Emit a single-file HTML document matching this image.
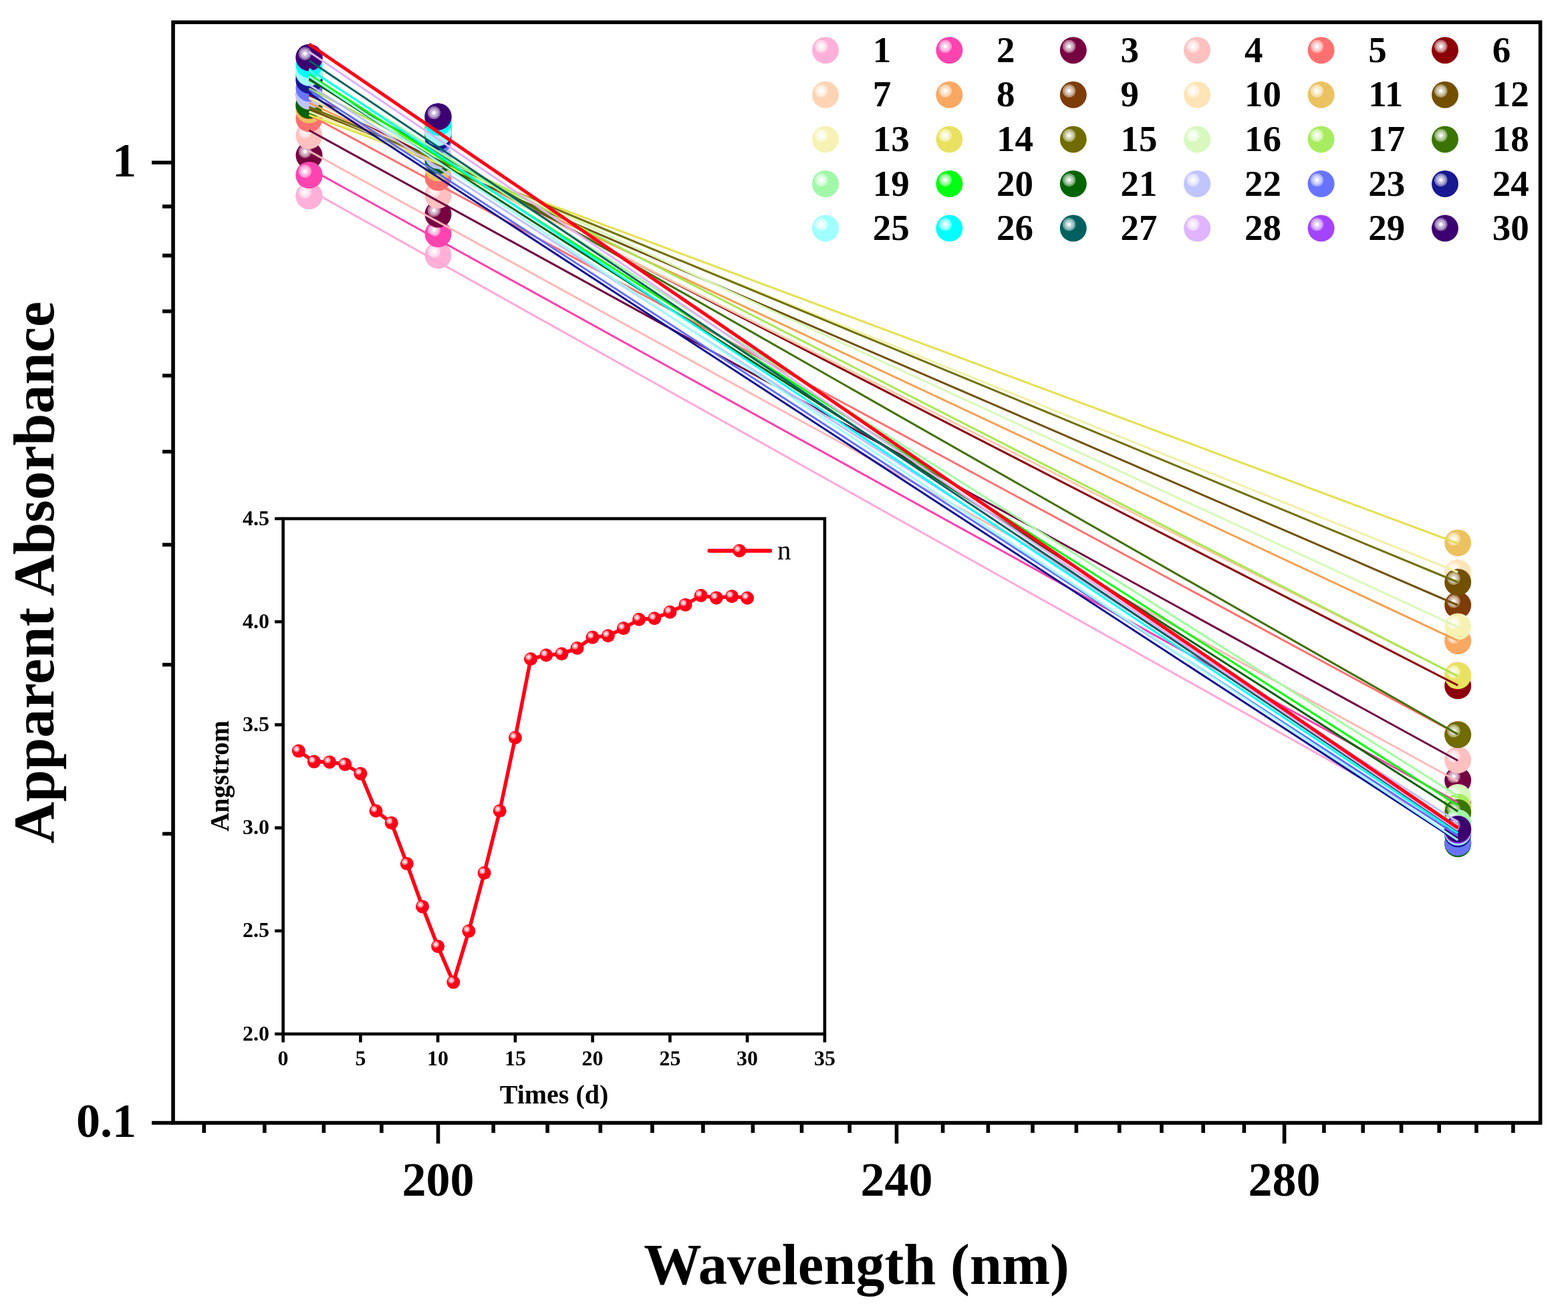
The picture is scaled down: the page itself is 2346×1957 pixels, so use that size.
<!DOCTYPE html><html><head><meta charset="utf-8"><title>Apparent Absorbance</title><style>html,body{margin:0;padding:0;background:#fff;}svg{display:block;}</style></head><body><svg width="2346" height="1957" viewBox="0 0 2346 1957">
<defs><radialGradient id="g1" cx="0.345" cy="0.355" r="0.25" fx="0.345" fy="0.355"><stop offset="0" stop-color="#ffffff"/><stop offset="0.17" stop-color="#ffffff"/><stop offset="0.38" stop-color="#ffe9f4"/><stop offset="0.66" stop-color="#ffe4f2"/><stop offset="0.72" stop-color="#ffd4ea"/><stop offset="0.94" stop-color="#ffd1e8"/><stop offset="1" stop-color="#ffb0d8"/></radialGradient><radialGradient id="g2" cx="0.345" cy="0.355" r="0.25" fx="0.345" fy="0.355"><stop offset="0" stop-color="#ffffff"/><stop offset="0.17" stop-color="#ffffff"/><stop offset="0.38" stop-color="#ffcbe9"/><stop offset="0.66" stop-color="#ffbfe4"/><stop offset="0.72" stop-color="#ff98d4"/><stop offset="0.94" stop-color="#ff93d1"/><stop offset="1" stop-color="#ff44b0"/></radialGradient><radialGradient id="g3" cx="0.345" cy="0.355" r="0.25" fx="0.345" fy="0.355"><stop offset="0" stop-color="#ffffff"/><stop offset="0.17" stop-color="#ffffff"/><stop offset="0.38" stop-color="#d9b8ca"/><stop offset="0.66" stop-color="#d0a8be"/><stop offset="0.72" stop-color="#b47396"/><stop offset="0.94" stop-color="#b06b90"/><stop offset="1" stop-color="#760040"/></radialGradient><radialGradient id="g4" cx="0.345" cy="0.355" r="0.25" fx="0.345" fy="0.355"><stop offset="0" stop-color="#ffffff"/><stop offset="0.17" stop-color="#ffffff"/><stop offset="0.38" stop-color="#ffeded"/><stop offset="0.66" stop-color="#ffeaea"/><stop offset="0.72" stop-color="#ffdcdc"/><stop offset="0.94" stop-color="#ffdada"/><stop offset="1" stop-color="#ffc0c0"/></radialGradient><radialGradient id="g5" cx="0.345" cy="0.355" r="0.25" fx="0.345" fy="0.355"><stop offset="0" stop-color="#ffffff"/><stop offset="0.17" stop-color="#ffffff"/><stop offset="0.38" stop-color="#ffd7d7"/><stop offset="0.66" stop-color="#ffcece"/><stop offset="0.72" stop-color="#ffb0b0"/><stop offset="0.94" stop-color="#ffacac"/><stop offset="1" stop-color="#ff7070"/></radialGradient><radialGradient id="g6" cx="0.345" cy="0.355" r="0.25" fx="0.345" fy="0.355"><stop offset="0" stop-color="#ffffff"/><stop offset="0.17" stop-color="#ffffff"/><stop offset="0.38" stop-color="#dfb8ba"/><stop offset="0.66" stop-color="#d8a8ab"/><stop offset="0.72" stop-color="#c07377"/><stop offset="0.94" stop-color="#bc6b70"/><stop offset="1" stop-color="#8c0008"/></radialGradient><radialGradient id="g7" cx="0.345" cy="0.355" r="0.25" fx="0.345" fy="0.355"><stop offset="0" stop-color="#ffffff"/><stop offset="0.17" stop-color="#ffffff"/><stop offset="0.38" stop-color="#fff3ea"/><stop offset="0.66" stop-color="#fff0e6"/><stop offset="0.72" stop-color="#ffe7d6"/><stop offset="0.94" stop-color="#ffe6d4"/><stop offset="1" stop-color="#ffd4b4"/></radialGradient><radialGradient id="g8" cx="0.345" cy="0.355" r="0.25" fx="0.345" fy="0.355"><stop offset="0" stop-color="#ffffff"/><stop offset="0.17" stop-color="#ffffff"/><stop offset="0.38" stop-color="#fde7d2"/><stop offset="0.66" stop-color="#fde1c9"/><stop offset="0.72" stop-color="#fbcfa8"/><stop offset="0.94" stop-color="#fbcda3"/><stop offset="1" stop-color="#f8a860"/></radialGradient><radialGradient id="g9" cx="0.345" cy="0.355" r="0.25" fx="0.345" fy="0.355"><stop offset="0" stop-color="#ffffff"/><stop offset="0.17" stop-color="#ffffff"/><stop offset="0.38" stop-color="#dbc8ba"/><stop offset="0.66" stop-color="#d3bdab"/><stop offset="0.72" stop-color="#b89477"/><stop offset="0.94" stop-color="#b48e70"/><stop offset="1" stop-color="#7e3c08"/></radialGradient><radialGradient id="g10" cx="0.345" cy="0.355" r="0.25" fx="0.345" fy="0.355"><stop offset="0" stop-color="#ffffff"/><stop offset="0.17" stop-color="#ffffff"/><stop offset="0.38" stop-color="#fff7eb"/><stop offset="0.66" stop-color="#fff6e7"/><stop offset="0.72" stop-color="#fff0d8"/><stop offset="0.94" stop-color="#ffefd6"/><stop offset="1" stop-color="#ffe4b8"/></radialGradient><radialGradient id="g11" cx="0.345" cy="0.355" r="0.25" fx="0.345" fy="0.355"><stop offset="0" stop-color="#ffffff"/><stop offset="0.17" stop-color="#ffffff"/><stop offset="0.38" stop-color="#faeed2"/><stop offset="0.66" stop-color="#f9eac9"/><stop offset="0.72" stop-color="#f5dda8"/><stop offset="0.94" stop-color="#f4dca3"/><stop offset="1" stop-color="#ecc260"/></radialGradient><radialGradient id="g12" cx="0.345" cy="0.355" r="0.25" fx="0.345" fy="0.355"><stop offset="0" stop-color="#ffffff"/><stop offset="0.17" stop-color="#ffffff"/><stop offset="0.38" stop-color="#d8ceb8"/><stop offset="0.66" stop-color="#cfc4a8"/><stop offset="0.72" stop-color="#b19f73"/><stop offset="0.94" stop-color="#ad9a6b"/><stop offset="1" stop-color="#725000"/></radialGradient><radialGradient id="g13" cx="0.345" cy="0.355" r="0.25" fx="0.345" fy="0.355"><stop offset="0" stop-color="#ffffff"/><stop offset="0.17" stop-color="#ffffff"/><stop offset="0.38" stop-color="#fcfbea"/><stop offset="0.66" stop-color="#fcfbe6"/><stop offset="0.72" stop-color="#faf8d6"/><stop offset="0.94" stop-color="#faf7d4"/><stop offset="1" stop-color="#f6f2b4"/></radialGradient><radialGradient id="g14" cx="0.345" cy="0.355" r="0.25" fx="0.345" fy="0.355"><stop offset="0" stop-color="#ffffff"/><stop offset="0.17" stop-color="#ffffff"/><stop offset="0.38" stop-color="#f9f7d2"/><stop offset="0.66" stop-color="#f7f5c9"/><stop offset="0.72" stop-color="#f2efa8"/><stop offset="0.94" stop-color="#f2eea3"/><stop offset="1" stop-color="#e8e260"/></radialGradient><radialGradient id="g15" cx="0.345" cy="0.355" r="0.25" fx="0.345" fy="0.355"><stop offset="0" stop-color="#ffffff"/><stop offset="0.17" stop-color="#ffffff"/><stop offset="0.38" stop-color="#d7d6b8"/><stop offset="0.66" stop-color="#cecda8"/><stop offset="0.72" stop-color="#b0ae73"/><stop offset="0.94" stop-color="#acaa6b"/><stop offset="1" stop-color="#706c00"/></radialGradient><radialGradient id="g16" cx="0.345" cy="0.355" r="0.25" fx="0.345" fy="0.355"><stop offset="0" stop-color="#ffffff"/><stop offset="0.17" stop-color="#ffffff"/><stop offset="0.38" stop-color="#f4fded"/><stop offset="0.66" stop-color="#f2fdea"/><stop offset="0.72" stop-color="#eafbdc"/><stop offset="0.94" stop-color="#e8fbda"/><stop offset="1" stop-color="#d8f8c0"/></radialGradient><radialGradient id="g17" cx="0.345" cy="0.355" r="0.25" fx="0.345" fy="0.355"><stop offset="0" stop-color="#ffffff"/><stop offset="0.17" stop-color="#ffffff"/><stop offset="0.38" stop-color="#e7fad2"/><stop offset="0.66" stop-color="#e1f9c9"/><stop offset="0.72" stop-color="#cff5a8"/><stop offset="0.94" stop-color="#cdf4a3"/><stop offset="1" stop-color="#a8ec60"/></radialGradient><radialGradient id="g18" cx="0.345" cy="0.355" r="0.25" fx="0.345" fy="0.355"><stop offset="0" stop-color="#ffffff"/><stop offset="0.17" stop-color="#ffffff"/><stop offset="0.38" stop-color="#c8d8b8"/><stop offset="0.66" stop-color="#bdd0a8"/><stop offset="0.72" stop-color="#94b373"/><stop offset="0.94" stop-color="#8eae6b"/><stop offset="1" stop-color="#3c7400"/></radialGradient><radialGradient id="g19" cx="0.345" cy="0.355" r="0.25" fx="0.345" fy="0.355"><stop offset="0" stop-color="#ffffff"/><stop offset="0.17" stop-color="#ffffff"/><stop offset="0.38" stop-color="#e4fde7"/><stop offset="0.66" stop-color="#dffde1"/><stop offset="0.72" stop-color="#cbfbcf"/><stop offset="0.94" stop-color="#c8fbcd"/><stop offset="1" stop-color="#a0f8a8"/></radialGradient><radialGradient id="g20" cx="0.345" cy="0.355" r="0.25" fx="0.345" fy="0.355"><stop offset="0" stop-color="#ffffff"/><stop offset="0.17" stop-color="#ffffff"/><stop offset="0.38" stop-color="#b8ffbc"/><stop offset="0.66" stop-color="#a8ffae"/><stop offset="0.72" stop-color="#73ff7c"/><stop offset="0.94" stop-color="#6bff74"/><stop offset="1" stop-color="#00ff10"/></radialGradient><radialGradient id="g21" cx="0.345" cy="0.355" r="0.25" fx="0.345" fy="0.355"><stop offset="0" stop-color="#ffffff"/><stop offset="0.17" stop-color="#ffffff"/><stop offset="0.38" stop-color="#b8d4b8"/><stop offset="0.66" stop-color="#a8caa8"/><stop offset="0.72" stop-color="#73aa73"/><stop offset="0.94" stop-color="#6ba56b"/><stop offset="1" stop-color="#006400"/></radialGradient><radialGradient id="g22" cx="0.345" cy="0.355" r="0.25" fx="0.345" fy="0.355"><stop offset="0" stop-color="#ffffff"/><stop offset="0.17" stop-color="#ffffff"/><stop offset="0.38" stop-color="#edeeff"/><stop offset="0.66" stop-color="#eaebff"/><stop offset="0.72" stop-color="#dcdfff"/><stop offset="0.94" stop-color="#daddff"/><stop offset="1" stop-color="#c0c4ff"/></radialGradient><radialGradient id="g23" cx="0.345" cy="0.355" r="0.25" fx="0.345" fy="0.355"><stop offset="0" stop-color="#ffffff"/><stop offset="0.17" stop-color="#ffffff"/><stop offset="0.38" stop-color="#d5d8ff"/><stop offset="0.66" stop-color="#ccd0ff"/><stop offset="0.72" stop-color="#acb3ff"/><stop offset="0.94" stop-color="#a7aeff"/><stop offset="1" stop-color="#6874ff"/></radialGradient><radialGradient id="g24" cx="0.345" cy="0.355" r="0.25" fx="0.345" fy="0.355"><stop offset="0" stop-color="#ffffff"/><stop offset="0.17" stop-color="#ffffff"/><stop offset="0.38" stop-color="#bebee0"/><stop offset="0.66" stop-color="#b0b0d9"/><stop offset="0.72" stop-color="#8080c2"/><stop offset="0.94" stop-color="#7979bf"/><stop offset="1" stop-color="#181890"/></radialGradient><radialGradient id="g25" cx="0.345" cy="0.355" r="0.25" fx="0.345" fy="0.355"><stop offset="0" stop-color="#ffffff"/><stop offset="0.17" stop-color="#ffffff"/><stop offset="0.38" stop-color="#e4ffff"/><stop offset="0.66" stop-color="#dfffff"/><stop offset="0.72" stop-color="#cbffff"/><stop offset="0.94" stop-color="#c8ffff"/><stop offset="1" stop-color="#a0ffff"/></radialGradient><radialGradient id="g26" cx="0.345" cy="0.355" r="0.25" fx="0.345" fy="0.355"><stop offset="0" stop-color="#ffffff"/><stop offset="0.17" stop-color="#ffffff"/><stop offset="0.38" stop-color="#b8ffff"/><stop offset="0.66" stop-color="#a8ffff"/><stop offset="0.72" stop-color="#73ffff"/><stop offset="0.94" stop-color="#6bffff"/><stop offset="1" stop-color="#00ffff"/></radialGradient><radialGradient id="g27" cx="0.345" cy="0.355" r="0.25" fx="0.345" fy="0.355"><stop offset="0" stop-color="#ffffff"/><stop offset="0.17" stop-color="#ffffff"/><stop offset="0.38" stop-color="#b8d2d2"/><stop offset="0.66" stop-color="#a8c9c9"/><stop offset="0.72" stop-color="#73a8a8"/><stop offset="0.94" stop-color="#6ba3a3"/><stop offset="1" stop-color="#006060"/></radialGradient><radialGradient id="g28" cx="0.345" cy="0.355" r="0.25" fx="0.345" fy="0.355"><stop offset="0" stop-color="#ffffff"/><stop offset="0.17" stop-color="#ffffff"/><stop offset="0.38" stop-color="#f6eaff"/><stop offset="0.66" stop-color="#f4e6ff"/><stop offset="0.72" stop-color="#eed6ff"/><stop offset="0.94" stop-color="#edd4ff"/><stop offset="1" stop-color="#e0b4ff"/></radialGradient><radialGradient id="g29" cx="0.345" cy="0.355" r="0.25" fx="0.345" fy="0.355"><stop offset="0" stop-color="#ffffff"/><stop offset="0.17" stop-color="#ffffff"/><stop offset="0.38" stop-color="#e6cbff"/><stop offset="0.66" stop-color="#e0bfff"/><stop offset="0.72" stop-color="#cd98ff"/><stop offset="0.94" stop-color="#ca93ff"/><stop offset="1" stop-color="#a444ff"/></radialGradient><radialGradient id="g30" cx="0.345" cy="0.355" r="0.25" fx="0.345" fy="0.355"><stop offset="0" stop-color="#ffffff"/><stop offset="0.17" stop-color="#ffffff"/><stop offset="0.38" stop-color="#c8b8d7"/><stop offset="0.66" stop-color="#bda8ce"/><stop offset="0.72" stop-color="#9473b0"/><stop offset="0.94" stop-color="#8e6bac"/><stop offset="1" stop-color="#3c0070"/></radialGradient><radialGradient id="gr" cx="0.345" cy="0.355" r="0.25" fx="0.345" fy="0.355"><stop offset="0" stop-color="#ffffff"/><stop offset="0.17" stop-color="#ffffff"/><stop offset="0.38" stop-color="#ffb8be"/><stop offset="0.66" stop-color="#ffa8b0"/><stop offset="0.72" stop-color="#ff7380"/><stop offset="0.94" stop-color="#ff6b79"/><stop offset="1" stop-color="#ff0018"/></radialGradient></defs>
<rect x="0" y="0" width="2346" height="1957" fill="#ffffff"/>
<circle cx="462.5" cy="293.0" r="20" fill="url(#g1)"/>
<circle cx="655.5" cy="382.0" r="20" fill="url(#g1)"/>
<circle cx="2181.2" cy="1245.0" r="20" fill="url(#g1)"/>
<circle cx="462.5" cy="262.0" r="20" fill="url(#g2)"/>
<circle cx="655.5" cy="350.0" r="20" fill="url(#g2)"/>
<circle cx="2181.2" cy="1201.0" r="20" fill="url(#g2)"/>
<circle cx="462.5" cy="232.5" r="20" fill="url(#g3)"/>
<circle cx="655.5" cy="320.5" r="20" fill="url(#g3)"/>
<circle cx="2181.2" cy="1167.5" r="20" fill="url(#g3)"/>
<circle cx="462.5" cy="203.0" r="20" fill="url(#g4)"/>
<circle cx="655.5" cy="292.0" r="20" fill="url(#g4)"/>
<circle cx="2181.2" cy="1137.0" r="20" fill="url(#g4)"/>
<circle cx="462.5" cy="177.5" r="20" fill="url(#g5)"/>
<circle cx="655.5" cy="265.4" r="20" fill="url(#g5)"/>
<circle cx="2181.2" cy="1099.0" r="20" fill="url(#g5)"/>
<circle cx="462.5" cy="142.0" r="20" fill="url(#g6)"/>
<circle cx="655.5" cy="187.0" r="20" fill="url(#g6)"/>
<circle cx="2181.2" cy="1026.0" r="20" fill="url(#g6)"/>
<circle cx="462.5" cy="147.0" r="20" fill="url(#g7)"/>
<circle cx="655.5" cy="190.0" r="20" fill="url(#g7)"/>
<circle cx="2181.2" cy="1010.0" r="20" fill="url(#g7)"/>
<circle cx="462.5" cy="154.0" r="20" fill="url(#g8)"/>
<circle cx="655.5" cy="195.0" r="20" fill="url(#g8)"/>
<circle cx="2181.2" cy="959.0" r="20" fill="url(#g8)"/>
<circle cx="462.5" cy="160.0" r="20" fill="url(#g9)"/>
<circle cx="655.5" cy="200.0" r="20" fill="url(#g9)"/>
<circle cx="2181.2" cy="905.5" r="20" fill="url(#g9)"/>
<circle cx="462.5" cy="163.0" r="20" fill="url(#g10)"/>
<circle cx="655.5" cy="198.0" r="20" fill="url(#g10)"/>
<circle cx="2181.2" cy="857.0" r="20" fill="url(#g10)"/>
<circle cx="462.5" cy="164.5" r="20" fill="url(#g11)"/>
<circle cx="655.5" cy="251.6" r="20" fill="url(#g11)"/>
<circle cx="2181.2" cy="812.2" r="20" fill="url(#g11)"/>
<circle cx="462.5" cy="158.0" r="20" fill="url(#g12)"/>
<circle cx="655.5" cy="195.0" r="20" fill="url(#g12)"/>
<circle cx="2181.2" cy="871.0" r="20" fill="url(#g12)"/>
<circle cx="462.5" cy="146.0" r="20" fill="url(#g13)"/>
<circle cx="655.5" cy="190.0" r="20" fill="url(#g13)"/>
<circle cx="2181.2" cy="937.5" r="20" fill="url(#g13)"/>
<circle cx="462.5" cy="132.0" r="20" fill="url(#g14)"/>
<circle cx="655.5" cy="180.0" r="20" fill="url(#g14)"/>
<circle cx="2181.2" cy="1011.0" r="20" fill="url(#g14)"/>
<circle cx="462.5" cy="120.0" r="20" fill="url(#g15)"/>
<circle cx="655.5" cy="178.0" r="20" fill="url(#g15)"/>
<circle cx="2181.2" cy="1099.3" r="20" fill="url(#g15)"/>
<circle cx="462.5" cy="105.0" r="20" fill="url(#g16)"/>
<circle cx="655.5" cy="185.0" r="20" fill="url(#g16)"/>
<circle cx="2181.2" cy="1193.0" r="20" fill="url(#g16)"/>
<circle cx="462.5" cy="110.0" r="20" fill="url(#g17)"/>
<circle cx="655.5" cy="188.0" r="20" fill="url(#g17)"/>
<circle cx="2181.2" cy="1207.5" r="20" fill="url(#g17)"/>
<circle cx="462.5" cy="116.0" r="20" fill="url(#g18)"/>
<circle cx="655.5" cy="192.0" r="20" fill="url(#g18)"/>
<circle cx="2181.2" cy="1215.7" r="20" fill="url(#g18)"/>
<circle cx="462.5" cy="100.0" r="20" fill="url(#g19)"/>
<circle cx="655.5" cy="190.0" r="20" fill="url(#g19)"/>
<circle cx="2181.2" cy="1231.0" r="20" fill="url(#g19)"/>
<circle cx="462.5" cy="110.0" r="20" fill="url(#g20)"/>
<circle cx="655.5" cy="195.0" r="20" fill="url(#g20)"/>
<circle cx="2181.2" cy="1250.0" r="20" fill="url(#g20)"/>
<circle cx="462.5" cy="156.7" r="20" fill="url(#g21)"/>
<circle cx="655.5" cy="240.4" r="20" fill="url(#g21)"/>
<circle cx="2181.2" cy="1262.5" r="20" fill="url(#g21)"/>
<circle cx="462.5" cy="143.9" r="20" fill="url(#g22)"/>
<circle cx="655.5" cy="232.7" r="20" fill="url(#g22)"/>
<circle cx="2181.2" cy="1250.0" r="20" fill="url(#g22)"/>
<circle cx="462.5" cy="131.9" r="20" fill="url(#g23)"/>
<circle cx="655.5" cy="210.0" r="20" fill="url(#g23)"/>
<circle cx="2181.2" cy="1260.6" r="20" fill="url(#g23)"/>
<circle cx="462.5" cy="119.9" r="20" fill="url(#g24)"/>
<circle cx="655.5" cy="204.5" r="20" fill="url(#g24)"/>
<circle cx="2181.2" cy="1247.8" r="20" fill="url(#g24)"/>
<circle cx="462.5" cy="108.8" r="20" fill="url(#g25)"/>
<circle cx="655.5" cy="198.5" r="20" fill="url(#g25)"/>
<circle cx="2181.2" cy="1245.0" r="20" fill="url(#g25)"/>
<circle cx="462.5" cy="96.8" r="20" fill="url(#g26)"/>
<circle cx="655.5" cy="183.0" r="20" fill="url(#g26)"/>
<circle cx="2181.2" cy="1240.0" r="20" fill="url(#g26)"/>
<circle cx="462.5" cy="86.0" r="20" fill="url(#g27)"/>
<circle cx="655.5" cy="174.5" r="20" fill="url(#g27)"/>
<circle cx="2181.2" cy="1240.0" r="20" fill="url(#g27)"/>
<circle cx="462.5" cy="86.0" r="20" fill="url(#g28)"/>
<circle cx="655.5" cy="174.5" r="20" fill="url(#g28)"/>
<circle cx="2181.2" cy="1240.0" r="20" fill="url(#g28)"/>
<circle cx="462.5" cy="86.5" r="20" fill="url(#g29)"/>
<circle cx="655.5" cy="174.5" r="20" fill="url(#g29)"/>
<circle cx="2181.2" cy="1242.5" r="20" fill="url(#g29)"/>
<circle cx="462.5" cy="86.0" r="20" fill="url(#g30)"/>
<circle cx="655.5" cy="174.5" r="20" fill="url(#g30)"/>
<circle cx="2181.2" cy="1240.4" r="20" fill="url(#g30)"/>
<line x1="462.5" y1="284" x2="2181.2" y2="1245" stroke="#ffa8d8" stroke-width="3.0" stroke-linecap="butt"/>
<line x1="462.5" y1="252" x2="2181.2" y2="1200.7" stroke="#ff40b0" stroke-width="3.0" stroke-linecap="butt"/>
<line x1="462.5" y1="226" x2="2181.2" y2="1169" stroke="#ffb8b8" stroke-width="3.0" stroke-linecap="butt"/>
<line x1="462.5" y1="195" x2="2181.2" y2="1138" stroke="#700040" stroke-width="3.0" stroke-linecap="butt"/>
<line x1="462.5" y1="171.7" x2="2181.2" y2="1098.8" stroke="#ff7070" stroke-width="3.0" stroke-linecap="butt"/>
<line x1="462.5" y1="142.3" x2="2181.2" y2="1025.4" stroke="#8c0010" stroke-width="3.0" stroke-linecap="butt"/>
<line x1="462.5" y1="147.5" x2="2181.2" y2="1011.5" stroke="#ffc8a8" stroke-width="3.0" stroke-linecap="butt"/>
<line x1="462.5" y1="153.8" x2="2181.2" y2="958.6" stroke="#f4a050" stroke-width="3.0" stroke-linecap="butt"/>
<line x1="462.5" y1="163" x2="2181.2" y2="905.5" stroke="#705000" stroke-width="3.0" stroke-linecap="butt"/>
<line x1="462.5" y1="167" x2="2181.2" y2="856" stroke="#f0f0a8" stroke-width="3.0" stroke-linecap="butt"/>
<line x1="462.5" y1="172" x2="2181.2" y2="813" stroke="#e4e050" stroke-width="3.0" stroke-linecap="butt"/>
<line x1="462.5" y1="160" x2="2181.2" y2="871" stroke="#707000" stroke-width="3.0" stroke-linecap="butt"/>
<line x1="462.5" y1="145.6" x2="2181.2" y2="938" stroke="#d8f8b8" stroke-width="3.0" stroke-linecap="butt"/>
<line x1="462.5" y1="132.5" x2="2181.2" y2="1011.7" stroke="#a8e850" stroke-width="3.0" stroke-linecap="butt"/>
<line x1="462.5" y1="119.5" x2="2181.2" y2="1098.5" stroke="#407000" stroke-width="3.0" stroke-linecap="butt"/>
<line x1="462.5" y1="104.6" x2="2181.2" y2="1191" stroke="#a0ffa0" stroke-width="3.0" stroke-linecap="butt"/>
<line x1="462.5" y1="111.8" x2="2181.2" y2="1205" stroke="#00ff00" stroke-width="3.0" stroke-linecap="butt"/>
<line x1="462.5" y1="117.7" x2="2181.2" y2="1214" stroke="#006000" stroke-width="3.0" stroke-linecap="butt"/>
<line x1="462.5" y1="126.7" x2="2181.2" y2="1230" stroke="#c0c0ff" stroke-width="3.0" stroke-linecap="butt"/>
<line x1="462.5" y1="134.2" x2="2181.2" y2="1250.5" stroke="#6070ff" stroke-width="3.0" stroke-linecap="butt"/>
<line x1="462.5" y1="139.6" x2="2181.2" y2="1258.7" stroke="#101090" stroke-width="3.0" stroke-linecap="butt"/>
<line x1="462.5" y1="114.1" x2="2181.2" y2="1256.9" stroke="#a0ffff" stroke-width="3.0" stroke-linecap="butt"/>
<line x1="462.5" y1="103" x2="2181.2" y2="1246.8" stroke="#00ffff" stroke-width="3.0" stroke-linecap="butt"/>
<line x1="462.5" y1="90.5" x2="2181.2" y2="1243.2" stroke="#006060" stroke-width="3.0" stroke-linecap="butt"/>
<line x1="462.5" y1="77.5" x2="2181.2" y2="1242" stroke="#e0b0ff" stroke-width="3.0" stroke-linecap="butt"/>
<line x1="462.5" y1="66" x2="2181.2" y2="1238.6" stroke="#ff0018" stroke-width="5.0" stroke-linecap="butt"/>
<circle cx="462.5" cy="293.0" r="20" fill="url(#g1)"/>
<circle cx="462.5" cy="262.0" r="20" fill="url(#g2)"/>
<rect x="259.0" y="33.3" width="2045.6" height="1646.7" fill="none" stroke="#000" stroke-width="5.6" stroke-linejoin="miter"/>
<path d="M305.2 1680.0v15 M395.8 1680.0v15 M484.4 1680.0v15 M570.9 1680.0v15 M655.5 1680.0v31 M738.2 1680.0v15 M819.1 1680.0v15 M898.3 1680.0v15 M975.9 1680.0v15 M1051.9 1680.0v15 M1126.4 1680.0v15 M1199.5 1680.0v15 M1271.2 1680.0v15 M1341.5 1680.0v31 M1410.6 1680.0v15 M1478.4 1680.0v15 M1545.0 1680.0v15 M1610.4 1680.0v15 M1674.8 1680.0v15 M1738.0 1680.0v15 M1800.2 1680.0v15 M1861.4 1680.0v15 M1921.6 1680.0v31 M1980.9 1680.0v15 M2039.2 1680.0v15 M2096.6 1680.0v15 M2153.2 1680.0v15 M2209.0 1680.0v15 M2263.9 1680.0v15 M259.0 243.2h-32 M259.0 1680.0h-32 M259.0 1247.5h-16 M259.0 994.5h-16 M259.0 815.0h-16 M259.0 675.7h-16 M259.0 562.0h-16 M259.0 465.8h-16 M259.0 382.4h-16 M259.0 308.9h-16" stroke="#000" stroke-width="5.6" fill="none"/>
<text x="655.5" y="1789" font-family="'Liberation Serif','Times New Roman',serif" font-weight="bold" font-size="72" text-anchor="middle">200</text>
<text x="1341.5" y="1789" font-family="'Liberation Serif','Times New Roman',serif" font-weight="bold" font-size="72" text-anchor="middle">240</text>
<text x="1921.6" y="1789" font-family="'Liberation Serif','Times New Roman',serif" font-weight="bold" font-size="72" text-anchor="middle">280</text>
<text x="204" y="263.5" font-family="'Liberation Serif','Times New Roman',serif" font-weight="bold" font-size="72" text-anchor="end">1</text>
<text x="204" y="1700.5" font-family="'Liberation Serif','Times New Roman',serif" font-weight="bold" font-size="72" text-anchor="end">0.1</text>
<text x="1281.5" y="1921" font-family="'Liberation Serif','Times New Roman',serif" font-weight="bold" font-size="86.5" text-anchor="middle">Wavelength (nm)</text>
<text transform="translate(79.8 856.5) rotate(-90)" x="0" y="0" font-family="'Liberation Serif','Times New Roman',serif" font-weight="bold" font-size="86.3" text-anchor="middle">Apparent Absorbance</text>
<circle cx="1235.0" cy="75.2" r="20" fill="url(#g1)"/>
<text x="1305.7" y="92.8" font-family="'Liberation Serif','Times New Roman',serif" font-weight="bold" font-size="55">1</text>
<circle cx="1420.4" cy="75.2" r="20" fill="url(#g2)"/>
<text x="1491.1" y="92.8" font-family="'Liberation Serif','Times New Roman',serif" font-weight="bold" font-size="55">2</text>
<circle cx="1605.8" cy="75.2" r="20" fill="url(#g3)"/>
<text x="1676.5" y="92.8" font-family="'Liberation Serif','Times New Roman',serif" font-weight="bold" font-size="55">3</text>
<circle cx="1791.2" cy="75.2" r="20" fill="url(#g4)"/>
<text x="1861.9" y="92.8" font-family="'Liberation Serif','Times New Roman',serif" font-weight="bold" font-size="55">4</text>
<circle cx="1976.6" cy="75.2" r="20" fill="url(#g5)"/>
<text x="2047.3" y="92.8" font-family="'Liberation Serif','Times New Roman',serif" font-weight="bold" font-size="55">5</text>
<circle cx="2162.0" cy="75.2" r="20" fill="url(#g6)"/>
<text x="2232.7" y="92.8" font-family="'Liberation Serif','Times New Roman',serif" font-weight="bold" font-size="55">6</text>
<circle cx="1235.0" cy="141.8" r="20" fill="url(#g7)"/>
<text x="1305.7" y="159.4" font-family="'Liberation Serif','Times New Roman',serif" font-weight="bold" font-size="55">7</text>
<circle cx="1420.4" cy="141.8" r="20" fill="url(#g8)"/>
<text x="1491.1" y="159.4" font-family="'Liberation Serif','Times New Roman',serif" font-weight="bold" font-size="55">8</text>
<circle cx="1605.8" cy="141.8" r="20" fill="url(#g9)"/>
<text x="1676.5" y="159.4" font-family="'Liberation Serif','Times New Roman',serif" font-weight="bold" font-size="55">9</text>
<circle cx="1791.2" cy="141.8" r="20" fill="url(#g10)"/>
<text x="1861.9" y="159.4" font-family="'Liberation Serif','Times New Roman',serif" font-weight="bold" font-size="55">10</text>
<circle cx="1976.6" cy="141.8" r="20" fill="url(#g11)"/>
<text x="2047.3" y="159.4" font-family="'Liberation Serif','Times New Roman',serif" font-weight="bold" font-size="55">11</text>
<circle cx="2162.0" cy="141.8" r="20" fill="url(#g12)"/>
<text x="2232.7" y="159.4" font-family="'Liberation Serif','Times New Roman',serif" font-weight="bold" font-size="55">12</text>
<circle cx="1235.0" cy="208.4" r="20" fill="url(#g13)"/>
<text x="1305.7" y="226.0" font-family="'Liberation Serif','Times New Roman',serif" font-weight="bold" font-size="55">13</text>
<circle cx="1420.4" cy="208.4" r="20" fill="url(#g14)"/>
<text x="1491.1" y="226.0" font-family="'Liberation Serif','Times New Roman',serif" font-weight="bold" font-size="55">14</text>
<circle cx="1605.8" cy="208.4" r="20" fill="url(#g15)"/>
<text x="1676.5" y="226.0" font-family="'Liberation Serif','Times New Roman',serif" font-weight="bold" font-size="55">15</text>
<circle cx="1791.2" cy="208.4" r="20" fill="url(#g16)"/>
<text x="1861.9" y="226.0" font-family="'Liberation Serif','Times New Roman',serif" font-weight="bold" font-size="55">16</text>
<circle cx="1976.6" cy="208.4" r="20" fill="url(#g17)"/>
<text x="2047.3" y="226.0" font-family="'Liberation Serif','Times New Roman',serif" font-weight="bold" font-size="55">17</text>
<circle cx="2162.0" cy="208.4" r="20" fill="url(#g18)"/>
<text x="2232.7" y="226.0" font-family="'Liberation Serif','Times New Roman',serif" font-weight="bold" font-size="55">18</text>
<circle cx="1235.0" cy="275.0" r="20" fill="url(#g19)"/>
<text x="1305.7" y="292.6" font-family="'Liberation Serif','Times New Roman',serif" font-weight="bold" font-size="55">19</text>
<circle cx="1420.4" cy="275.0" r="20" fill="url(#g20)"/>
<text x="1491.1" y="292.6" font-family="'Liberation Serif','Times New Roman',serif" font-weight="bold" font-size="55">20</text>
<circle cx="1605.8" cy="275.0" r="20" fill="url(#g21)"/>
<text x="1676.5" y="292.6" font-family="'Liberation Serif','Times New Roman',serif" font-weight="bold" font-size="55">21</text>
<circle cx="1791.2" cy="275.0" r="20" fill="url(#g22)"/>
<text x="1861.9" y="292.6" font-family="'Liberation Serif','Times New Roman',serif" font-weight="bold" font-size="55">22</text>
<circle cx="1976.6" cy="275.0" r="20" fill="url(#g23)"/>
<text x="2047.3" y="292.6" font-family="'Liberation Serif','Times New Roman',serif" font-weight="bold" font-size="55">23</text>
<circle cx="2162.0" cy="275.0" r="20" fill="url(#g24)"/>
<text x="2232.7" y="292.6" font-family="'Liberation Serif','Times New Roman',serif" font-weight="bold" font-size="55">24</text>
<circle cx="1235.0" cy="341.6" r="20" fill="url(#g25)"/>
<text x="1305.7" y="359.2" font-family="'Liberation Serif','Times New Roman',serif" font-weight="bold" font-size="55">25</text>
<circle cx="1420.4" cy="341.6" r="20" fill="url(#g26)"/>
<text x="1491.1" y="359.2" font-family="'Liberation Serif','Times New Roman',serif" font-weight="bold" font-size="55">26</text>
<circle cx="1605.8" cy="341.6" r="20" fill="url(#g27)"/>
<text x="1676.5" y="359.2" font-family="'Liberation Serif','Times New Roman',serif" font-weight="bold" font-size="55">27</text>
<circle cx="1791.2" cy="341.6" r="20" fill="url(#g28)"/>
<text x="1861.9" y="359.2" font-family="'Liberation Serif','Times New Roman',serif" font-weight="bold" font-size="55">28</text>
<circle cx="1976.6" cy="341.6" r="20" fill="url(#g29)"/>
<text x="2047.3" y="359.2" font-family="'Liberation Serif','Times New Roman',serif" font-weight="bold" font-size="55">29</text>
<circle cx="2162.0" cy="341.6" r="20" fill="url(#g30)"/>
<text x="2232.7" y="359.2" font-family="'Liberation Serif','Times New Roman',serif" font-weight="bold" font-size="55">30</text>
<rect x="423.6" y="776.0" width="810.3" height="771.0" fill="#fff" stroke="#000" stroke-width="4.6"/>
<path d="M423.6 1547.0v12.5 M539.4 1547.0v12.5 M655.1 1547.0v12.5 M770.9 1547.0v12.5 M886.6 1547.0v12.5 M1002.4 1547.0v12.5 M1118.1 1547.0v12.5 M1233.9 1547.0v12.5 M423.6 1547.0h-12.5 M423.6 1392.8h-12.5 M423.6 1238.6h-12.5 M423.6 1084.4h-12.5 M423.6 930.2h-12.5 M423.6 776.0h-12.5" stroke="#000" stroke-width="4.6" fill="none"/>
<text x="423.6" y="1593.5" font-family="'Liberation Serif','Times New Roman',serif" font-weight="bold" font-size="32" text-anchor="middle">0</text>
<text x="539.4" y="1593.5" font-family="'Liberation Serif','Times New Roman',serif" font-weight="bold" font-size="32" text-anchor="middle">5</text>
<text x="655.1" y="1593.5" font-family="'Liberation Serif','Times New Roman',serif" font-weight="bold" font-size="32" text-anchor="middle">10</text>
<text x="770.9" y="1593.5" font-family="'Liberation Serif','Times New Roman',serif" font-weight="bold" font-size="32" text-anchor="middle">15</text>
<text x="886.6" y="1593.5" font-family="'Liberation Serif','Times New Roman',serif" font-weight="bold" font-size="32" text-anchor="middle">20</text>
<text x="1002.4" y="1593.5" font-family="'Liberation Serif','Times New Roman',serif" font-weight="bold" font-size="32" text-anchor="middle">25</text>
<text x="1118.1" y="1593.5" font-family="'Liberation Serif','Times New Roman',serif" font-weight="bold" font-size="32" text-anchor="middle">30</text>
<text x="1233.9" y="1593.5" font-family="'Liberation Serif','Times New Roman',serif" font-weight="bold" font-size="32" text-anchor="middle">35</text>
<text x="403" y="1556.6" font-family="'Liberation Serif','Times New Roman',serif" font-weight="bold" font-size="32" text-anchor="end">2.0</text>
<text x="403" y="1402.4" font-family="'Liberation Serif','Times New Roman',serif" font-weight="bold" font-size="32" text-anchor="end">2.5</text>
<text x="403" y="1248.2" font-family="'Liberation Serif','Times New Roman',serif" font-weight="bold" font-size="32" text-anchor="end">3.0</text>
<text x="403" y="1094.0" font-family="'Liberation Serif','Times New Roman',serif" font-weight="bold" font-size="32" text-anchor="end">3.5</text>
<text x="403" y="939.8" font-family="'Liberation Serif','Times New Roman',serif" font-weight="bold" font-size="32" text-anchor="end">4.0</text>
<text x="403" y="785.6" font-family="'Liberation Serif','Times New Roman',serif" font-weight="bold" font-size="32" text-anchor="end">4.5</text>
<text x="829" y="1651" font-family="'Liberation Serif','Times New Roman',serif" font-weight="bold" font-size="40" text-anchor="middle">Times (d)</text>
<text transform="translate(342 1161) rotate(-90)" font-family="'Liberation Serif','Times New Roman',serif" font-weight="bold" font-size="39" text-anchor="middle">Angstrom</text>
<polyline points="446.8,1123.6 469.9,1139.6 493.1,1140.2 516.2,1143.6 539.4,1157.5 562.5,1213.3 585.7,1231.2 608.8,1292.3 632.0,1356.4 655.1,1415.9 678.3,1469.6 701.4,1393.1 724.6,1306.1 747.7,1213.3 770.9,1103.8 794.0,986.0 817.2,980.2 840.3,978.3 863.5,969.7 886.6,953.6 909.8,951.2 932.9,940.1 956.1,926.8 979.2,925.3 1002.4,915.7 1025.5,904.9 1048.7,891.0 1071.8,894.4 1095.0,892.3 1118.1,894.7" fill="none" stroke="#ff0018" stroke-width="5.5" stroke-linejoin="round"/>
<circle cx="446.8" cy="1123.6" r="10" fill="url(#gr)"/>
<circle cx="469.9" cy="1139.6" r="10" fill="url(#gr)"/>
<circle cx="493.1" cy="1140.2" r="10" fill="url(#gr)"/>
<circle cx="516.2" cy="1143.6" r="10" fill="url(#gr)"/>
<circle cx="539.4" cy="1157.5" r="10" fill="url(#gr)"/>
<circle cx="562.5" cy="1213.3" r="10" fill="url(#gr)"/>
<circle cx="585.7" cy="1231.2" r="10" fill="url(#gr)"/>
<circle cx="608.8" cy="1292.3" r="10" fill="url(#gr)"/>
<circle cx="632.0" cy="1356.4" r="10" fill="url(#gr)"/>
<circle cx="655.1" cy="1415.9" r="10" fill="url(#gr)"/>
<circle cx="678.3" cy="1469.6" r="10" fill="url(#gr)"/>
<circle cx="701.4" cy="1393.1" r="10" fill="url(#gr)"/>
<circle cx="724.6" cy="1306.1" r="10" fill="url(#gr)"/>
<circle cx="747.7" cy="1213.3" r="10" fill="url(#gr)"/>
<circle cx="770.9" cy="1103.8" r="10" fill="url(#gr)"/>
<circle cx="794.0" cy="986.0" r="10" fill="url(#gr)"/>
<circle cx="817.2" cy="980.2" r="10" fill="url(#gr)"/>
<circle cx="840.3" cy="978.3" r="10" fill="url(#gr)"/>
<circle cx="863.5" cy="969.7" r="10" fill="url(#gr)"/>
<circle cx="886.6" cy="953.6" r="10" fill="url(#gr)"/>
<circle cx="909.8" cy="951.2" r="10" fill="url(#gr)"/>
<circle cx="932.9" cy="940.1" r="10" fill="url(#gr)"/>
<circle cx="956.1" cy="926.8" r="10" fill="url(#gr)"/>
<circle cx="979.2" cy="925.3" r="10" fill="url(#gr)"/>
<circle cx="1002.4" cy="915.7" r="10" fill="url(#gr)"/>
<circle cx="1025.5" cy="904.9" r="10" fill="url(#gr)"/>
<circle cx="1048.7" cy="891.0" r="10" fill="url(#gr)"/>
<circle cx="1071.8" cy="894.4" r="10" fill="url(#gr)"/>
<circle cx="1095.0" cy="892.3" r="10" fill="url(#gr)"/>
<circle cx="1118.1" cy="894.7" r="10" fill="url(#gr)"/>
<line x1="1061.3" y1="824" x2="1152.4" y2="824" stroke="#ff0018" stroke-width="5.8" stroke-linecap="round"/>
<circle cx="1106.3" cy="824.0" r="10" fill="url(#gr)"/>
<text x="1163" y="837" font-family="'Liberation Serif','Times New Roman',serif" font-size="41">n</text>
</svg></body></html>
